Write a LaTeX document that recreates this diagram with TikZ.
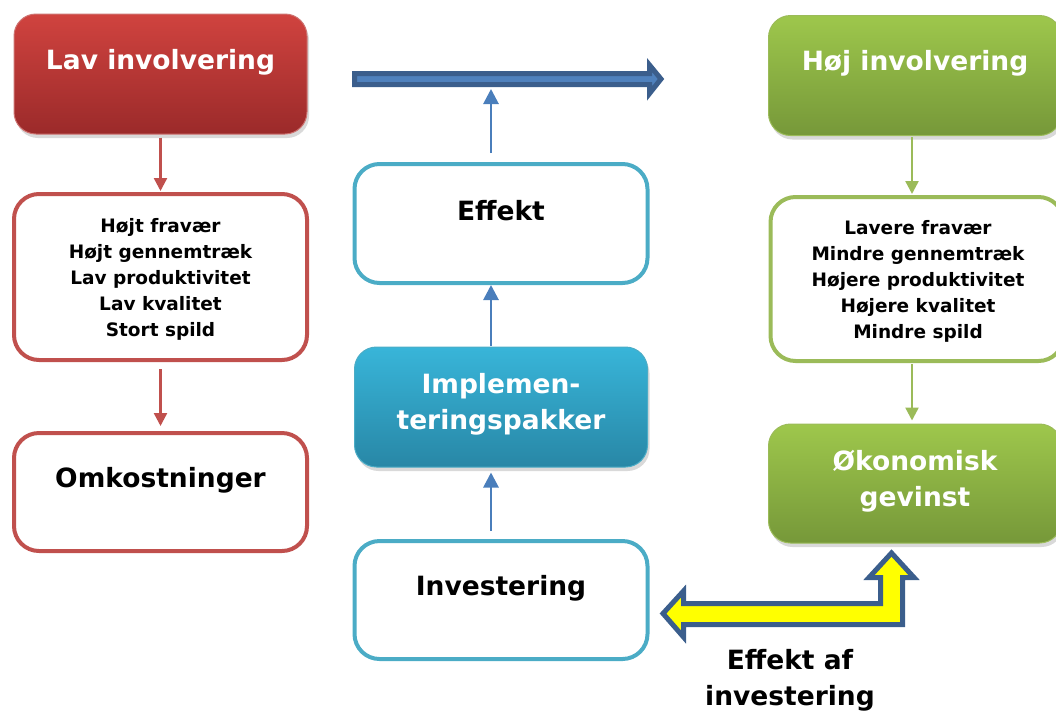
\documentclass[tikz,border=0pt]{standalone}
\usepackage{fontspec}
\setmainfont{DejaVu Sans}
\usetikzlibrary{arrows.meta,shadows,calc}
\definecolor{redtop}{HTML}{D0433F}
\definecolor{redbot}{HTML}{9B2A2A}
\definecolor{redline}{HTML}{C0504D}
\definecolor{greentop}{HTML}{9EC74C}
\definecolor{greenbot}{HTML}{769839}
\definecolor{greenline}{HTML}{9BBB59}
\definecolor{tealtop}{HTML}{38B5D9}
\definecolor{tealbot}{HTML}{2887A6}
\definecolor{tealline}{HTML}{4BACC6}
\definecolor{arrowblue}{HTML}{4A7EBB}
\definecolor{darkblue}{HTML}{3B5E8C}
\definecolor{midblue}{HTML}{4F81BD}
\definecolor{yel}{HTML}{FFFF00}
\tikzset{
  box/.style={rounded corners=22pt, minimum width=293pt, inner sep=0pt},
  fillbox/.style={box, minimum height=120pt, line width=1pt,
     drop shadow={opacity=0.3, shadow xshift=2pt, shadow yshift=-4pt}},
  redfill/.style={fillbox, draw=redline!80, top color=redtop, bottom color=redbot},
  greenfill/.style={fillbox, draw=greenline, top color=greentop, bottom color=greenbot},
  tealfill/.style={fillbox, draw=tealline, top color=tealtop, bottom color=tealbot},
  whitebox/.style={box, rounded corners=25pt, line width=4pt, fill=white},
  bigtxt/.style={font=\fontsize{26.5}{36}\selectfont\bfseries, align=center, inner sep=0pt},
  smalltxt/.style={font=\fontsize{18.5}{26}\selectfont\bfseries, align=center, inner sep=0pt},
  conn/.style={line width=2.4pt, -{Triangle[width=13pt,length=13pt]}},
  bconn/.style={line width=2.8pt, -{Triangle[width=15pt,length=15pt]}},
}
\begin{document}
\begin{tikzpicture}[x=1pt,y=-1pt]
\useasboundingbox (0,0) rectangle (1056,710);
\clip (0,0) rectangle (1056,710);

% left column
\node[redfill] (lav) at (160.5,74) {};
\node[bigtxt, text=white] (lavt) at (160.5,62) {Lav involvering};
\node[whitebox, draw=redline, minimum height=166pt] (lavl) at (160.5,277) {};
\node[smalltxt] (lavlt) at (160.5,279) {Højt fravær\\Højt gennemtræk\\Lav produktivitet\\Lav kvalitet\\Stort spild};
\node[whitebox, draw=redline, minimum height=118pt] (omk) at (160.5,492) {};
\node[bigtxt] (omkt) at (160.5,480) {Omkostninger};

\draw[conn, redline, shorten <=3pt, shorten >=1pt] (lav.south) -- (lavl.north);
\draw[conn, redline, shorten <=7pt, shorten >=5pt] (lavl.south) -- (omk.north);

% middle column
\node[whitebox, draw=tealline, minimum height=119pt] (eff) at (501,223.5) {};
\node[bigtxt] (efft) at (501,211) {Effekt};
\node[tealfill] (imp) at (501,407) {};
\node[bigtxt, text=white] (impt) at (501,404) {Implemen-\\teringspakker};
\node[whitebox, draw=tealline, minimum height=118pt] (inv) at (501,600) {};
\node[bigtxt] (invt) at (501,588) {Investering};

% big blue arrow
\draw[line width=5pt, draw=darkblue, fill=midblue, line join=miter]
  (354.5,73.5) -- (649.5,73.5) -- (649.5,65) -- (661,79) -- (649.5,93.5) -- (649.5,84.5) -- (354.5,84.5) -- cycle;
\coordinate (bigarrow) at (491,89);

\draw[bconn, arrowblue] ([xshift=-10pt]inv.north) ++(0,-8) -- ([xshift=-10pt,yshift=-5pt]imp.south);
\draw[bconn, arrowblue] ([xshift=-10pt]imp.north) ++(0,-1) -- ([xshift=-10pt]eff.south);
\draw[bconn, arrowblue] ([xshift=-10pt]eff.north) ++(0,-9) -- (bigarrow);

% right column
\node[greenfill] (hoj) at (915,75.5) {};
\node[bigtxt, text=white] (hojt) at (915,63) {Høj involvering};
\node[whitebox, draw=greenline, minimum height=164pt] (hojl) at (917,279) {};
\node[smalltxt] (hojlt) at (918,281) {Lavere fravær\\Mindre gennemtræk\\Højere produktivitet\\Højere kvalitet\\Mindre spild};
\node[greenfill, minimum height=119pt] (oko) at (915,483.5) {};
\node[bigtxt, text=white] (okot) at (915,481) {Økonomisk\\gevinst};

\draw[conn, greenline, shorten <=1pt, shorten >=1pt] ([xshift=-3pt]hoj.south) -- ([xshift=-5pt]hojl.north);
\draw[conn, greenline, shorten <=1pt, shorten >=3pt] ([xshift=-5pt]hojl.south) -- ([xshift=-3pt]oko.north);

% yellow bent arrow
\draw[line width=5pt, draw=darkblue, fill=yel, line join=miter]
  (663,613.5) -- (683.5,591) -- (683.5,603.5) -- (880.5,603.5) -- (880.5,577.5) -- (869,577.5)
  -- (891.5,553) -- (914,577.5) -- (902.5,577.5) -- (902.5,624.5) -- (683.5,624.5) -- (683.5,637) -- cycle;
\node[bigtxt] (effinv) at (790,680) {Effekt af\\investering};
\end{tikzpicture}
\end{document}
